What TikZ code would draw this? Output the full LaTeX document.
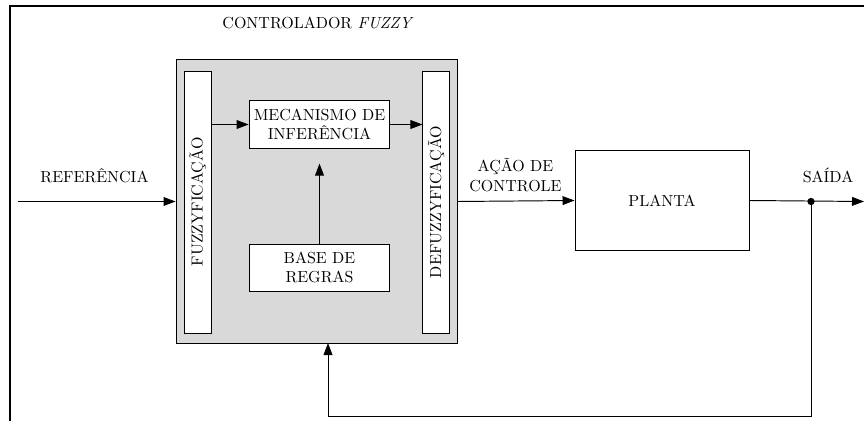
\documentclass[tikz,border=0pt]{standalone}
\usepackage{fontspec}
\usepackage{tikz}
\usetikzlibrary{arrows.meta}
\usepackage{amsmath}

\definecolor{cinzafundo}{RGB}{217,217,217}
\tikzset{
    bloco/.style={draw, line width=0.6pt, fill=white, inner sep=0pt, align=center},
    seta/.style={line width=0.6pt, -{Triangle[length=7.5pt,width=5.5pt]}},
    linha/.style={line width=0.6pt},
}

\begin{document}
\begin{tikzpicture}[x=0.625pt,y=-0.625pt]

            \useasboundingbox (0,0) rectangle (864,421);
            \draw [line width=0.8pt] (10,421) -- (10,6) -- (864,6);

            \node (titulo) at (318,23) {CONTROLADOR \textit{FUZZY}};

            \node (controlador) [bloco, fill=cinzafundo, minimum width=175.6pt, minimum height=177pt] at (316.5,201.5) {};
            \node (fuzz) [bloco, minimum width=16.9pt, minimum height=163.75pt] at (197.5,202) {};
            \node [rotate=90] at (fuzz.center) {FUZZYFICAÇÃO};
            \node (defuzz) [bloco, minimum width=16.3pt, minimum height=163.75pt] at (436,202) {};
            \node [rotate=90] at (defuzz.center) {DEFUZZYFICAÇÃO};
            \node (mecanismo) [bloco, minimum width=88pt, minimum height=29.4pt] at (319.5,124.5) {MECANISMO DE\\INFERÊNCIA};
            \node (base) [bloco, minimum width=88pt, minimum height=29.4pt] at (319.5,267.5) {BASE DE\\REGRAS};
            \node (planta) [bloco, minimum width=108.75pt, minimum height=63pt] at (662,200.5) {PLANTA};

            \node (referencia) at (94.5,176) {REFERÊNCIA};
            \node (acao) [align=center] at (515.5,175) {AÇÃO DE\\CONTROLE};
            \node (saida) at (828,175) {SAÍDA};

            \coordinate (entrada) at (18,201.5);
            \coordinate (fim) at (864,201.5);
            \coordinate (retorno) at (811,416);

            \draw [seta] (entrada) -- (controlador.west);
            \draw [seta] (fuzz.east |- mecanismo.west) -- (mecanismo.west);
            \draw [seta] (mecanismo.east) -- (mecanismo.east -| defuzz.west);
            \draw [seta, shorten >=9.4pt] (base.north) -- (mecanismo.south);
            \draw [seta] (controlador.east) -- (planta.west);
            \draw [seta] (planta.east) -- (fim);

            \node (no) [circle, fill, inner sep=1.6pt] at (811,201.5) {};
            \draw [seta] (no.center) |- (retorno) -| (328,343);

        \end{tikzpicture}
\end{document}
